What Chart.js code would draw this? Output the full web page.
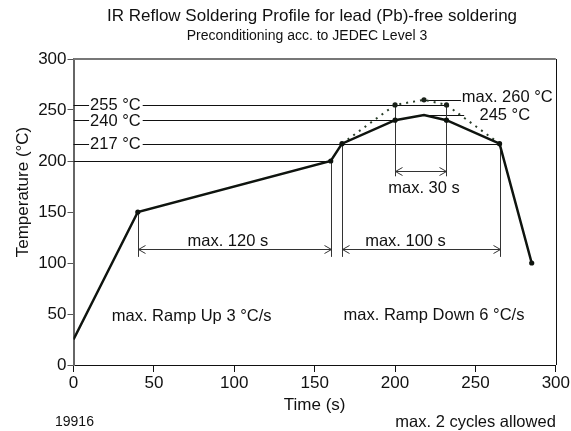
<!DOCTYPE html>
<html>
<head>
<meta charset="utf-8">
<script src="https://cdn.jsdelivr.net/npm/chart.js@4/dist/chart.umd.min.js"></script>
<style>
  body { margin: 0; background: #fff; }
  #wrap { width: 571px; height: 431px; position: relative; }
</style>
</head>
<body>
<div id="wrap"><canvas id="reflow"></canvas></div>
<script>
// Profile data (time in s, temperature in °C)
const profileTime = [0, 40, 160, 167, 200, 218, 232, 265, 285];
const profileTemp = [25, 150, 200, 217, 240, 245, 240, 217, 100];
const profileMarks = [0, 1, 1, 1, 1, 0, 1, 1, 1];

// Dotted max-peak curve
const peakTime = [167, 200, 218, 232, 265];
const peakTemp = [217, 255, 260, 255, 217];
const peakMarks = [0, 1, 1, 1, 0];

// Tick labels
const xTicks = [0, 50, 100, 150, 200, 250, 300];
const yTicks = [0, 50, 100, 150, 200, 250, 300];

// Reference levels drawn from the y axis
const levelTemps = [255, 240, 217, 200];
const levelEnds = [232, 200, 265, 160];
const levelLabels = ['255 °C', '240 °C', '217 °C', ''];

// Time spans with arrows
const spanStart = [40, 167, 200];
const spanEnd = [160, 265, 232];
const spanLabels = ['max. 120 s', 'max. 100 s', 'max. 30 s'];

const FONT = "'Liberation Sans', Arial, Helvetica, sans-serif";

function toPoints(xs, ys) {
    return xs.map((x, i) => ({ x: x, y: ys[i] }));
}

function arrowHead(ctx, x, y, dir) {
    // open arrow head pointing left (dir = -1) or right (dir = 1)
    ctx.beginPath();
    ctx.moveTo(x - dir * 7, y - 4);
    ctx.lineTo(x, y);
    ctx.lineTo(x - dir * 7, y + 4);
    ctx.stroke();
}

function text(ctx, str, x, y, size, align) {
    ctx.font = size + 'px ' + FONT;
    ctx.textAlign = align || 'center';
    ctx.textBaseline = 'middle';
    ctx.fillStyle = '#111';
    ctx.fillText(str, x, y);
}

const annotate = {
    id: 'annotate',
    beforeDatasetsDraw(chart) {
        const ctx = chart.ctx;
        const xs = chart.scales.x, ys = chart.scales.y;
        const left = chart.chartArea.left;
        ctx.save();
        ctx.lineWidth = 1;
        ctx.strokeStyle = '#111';

        // horizontal level lines
        levelTemps.forEach((t, i) => {
            const py = Math.round(ys.getPixelForValue(t)) + 0.5;
            ctx.beginPath();
            ctx.moveTo(left, py);
            ctx.lineTo(xs.getPixelForValue(levelEnds[i]), py);
            ctx.stroke();
        });

        // leader lines for the peak labels
        [[260, 241], [245, 243]].forEach(p => {
            const py = Math.round(ys.getPixelForValue(p[0])) + 0.5;
            ctx.beginPath();
            ctx.moveTo(xs.getPixelForValue(218), py);
            ctx.lineTo(xs.getPixelForValue(p[1]), py);
            ctx.stroke();
        });

        // span arrows with vertical limits
        ctx.strokeStyle = '#333';
        const arrowY = [113.5, 113.5, 190.5];
        const lowY = [106, 106, 185];
        const topY = [[150, 200], [217, 217], [255, 255]];
        spanLabels.forEach((lab, i) => {
            const x1 = Math.round(xs.getPixelForValue(spanStart[i])) + 0.5;
            const x2 = Math.round(xs.getPixelForValue(spanEnd[i])) + 0.5;
            const ay = Math.round(ys.getPixelForValue(arrowY[i])) + 0.5;
            const by = ys.getPixelForValue(lowY[i]);
            ctx.beginPath();
            ctx.moveTo(x1, ys.getPixelForValue(topY[i][0]));
            ctx.lineTo(x1, by);
            ctx.moveTo(x2, ys.getPixelForValue(topY[i][1]));
            ctx.lineTo(x2, by);
            ctx.moveTo(x1, ay);
            ctx.lineTo(x2, ay);
            ctx.stroke();
            arrowHead(ctx, x1, ay, -1);
            arrowHead(ctx, x2, ay, 1);
        });
        ctx.restore();
    },
    afterDatasetsDraw(chart) {
        const ctx = chart.ctx;
        const xs = chart.scales.x, ys = chart.scales.y;
        ctx.save();

        // level labels on a white background, breaking the line
        ctx.font = '16.5px ' + FONT;
        levelLabels.forEach((lab, i) => {
            if (!lab) return;
            const px = xs.getPixelForValue(10.3);
            const py = ys.getPixelForValue(levelTemps[i]);
            const w = ctx.measureText(lab).width;
            ctx.fillStyle = '#fff';
            ctx.fillRect(px - 1, py - 7, w + 3, 14);
            text(ctx, lab, px, py + 1, 16.5, 'left');
        });

        // span labels
        const labX = [96, 206.5, 218];
        const labY = [121, 121, 173.5];
        spanLabels.forEach((lab, i) => {
            text(ctx, lab, xs.getPixelForValue(labX[i]), ys.getPixelForValue(labY[i]), 16.5);
        });

        text(ctx, 'max. 260 °C', xs.getPixelForValue(241.5), ys.getPixelForValue(262.5), 16.5, 'left');
        text(ctx, '245 °C', xs.getPixelForValue(252.5), ys.getPixelForValue(244.5), 16.5, 'left');
        text(ctx, 'max. Ramp Up 3 °C/s', xs.getPixelForValue(23.8), ys.getPixelForValue(47.5), 16.5, 'left');
        text(ctx, 'max. Ramp Down 6 °C/s', xs.getPixelForValue(168), ys.getPixelForValue(49), 16.5, 'left');
        ctx.restore();
    },
    afterDraw(chart) {
        const ctx = chart.ctx;
        const a = chart.chartArea;
        ctx.save();
        // frame: grey top, black right
        ctx.strokeStyle = '#777';
        ctx.lineWidth = 2;
        ctx.beginPath();
        ctx.moveTo(a.left, a.top);
        ctx.lineTo(a.right, a.top);
        ctx.stroke();
        ctx.strokeStyle = '#111';
        ctx.lineWidth = 1;
        ctx.beginPath();
        ctx.moveTo(Math.round(a.right) + 0.5, a.top);
        ctx.lineTo(Math.round(a.right) + 0.5, a.bottom);
        ctx.stroke();

        // titles and notes
        text(ctx, 'IR Reflow Soldering Profile for lead (Pb)-free soldering', 312, 16, 17);
        text(ctx, 'Preconditioning acc. to JEDEC Level 3', 307, 36, 14);
        text(ctx, 'Time (s)', (a.left + a.right) / 2, 405, 17);
        text(ctx, '19916', 55, 422, 14, 'left');
        text(ctx, 'max. 2 cycles allowed', a.right, 422, 16.5, 'right');

        ctx.translate(23, 192);
        ctx.rotate(-Math.PI / 2);
        text(ctx, 'Temperature (°C)', 0, 0, 17);
        ctx.restore();
    }
};

const tickFont = { family: FONT, size: 17 };

new Chart(document.getElementById('reflow'), {
    type: 'scatter',
    data: {
        datasets: [
            {
                data: toPoints(profileTime, profileTemp),
                showLine: true,
                borderColor: '#0f140f',
                backgroundColor: '#0f140f',
                borderWidth: 2.5,
                pointRadius: profileMarks.map(m => m ? 2.6 : 0),
                pointBorderWidth: 0,
                order: 1
            },
            {
                data: toPoints(peakTime, peakTemp),
                showLine: true,
                borderColor: '#2a3f2a',
                backgroundColor: '#1a221a',
                borderWidth: 2,
                borderDash: [2, 5],
                pointRadius: peakMarks.map(m => m ? 2.6 : 0),
                pointBorderWidth: 0,
                order: 2
            }
        ]
    },
    options: {
        responsive: true,
        maintainAspectRatio: false,
        animation: false,
        layout: { padding: { top: 59, right: 13, left: 0, bottom: 0 } },
        plugins: {
            legend: { display: false },
            tooltip: { enabled: false }
        },
        scales: {
            x: {
                type: 'linear',
                min: 0,
                max: 300,
                afterBuildTicks: s => { s.ticks = xTicks.map(v => ({ value: v })); },
                afterFit: s => { s.height = 66; },
                ticks: { font: tickFont, color: '#111', padding: 1 },
                grid: { drawOnChartArea: false, tickLength: 7, color: '#111' },
                border: { color: '#111', width: 1 }
            },
            y: {
                min: 0,
                max: 300,
                afterBuildTicks: s => { s.ticks = yTicks.map(v => ({ value: v })); },
                afterFit: s => { s.width = 73.5; },
                ticks: { font: tickFont, color: '#111', padding: 1 },
                grid: { drawOnChartArea: false, tickLength: 6, color: '#555' },
                border: { color: '#666', width: 2 }
            }
        }
    },
    plugins: [annotate]
});
</script>
</body>
</html>
